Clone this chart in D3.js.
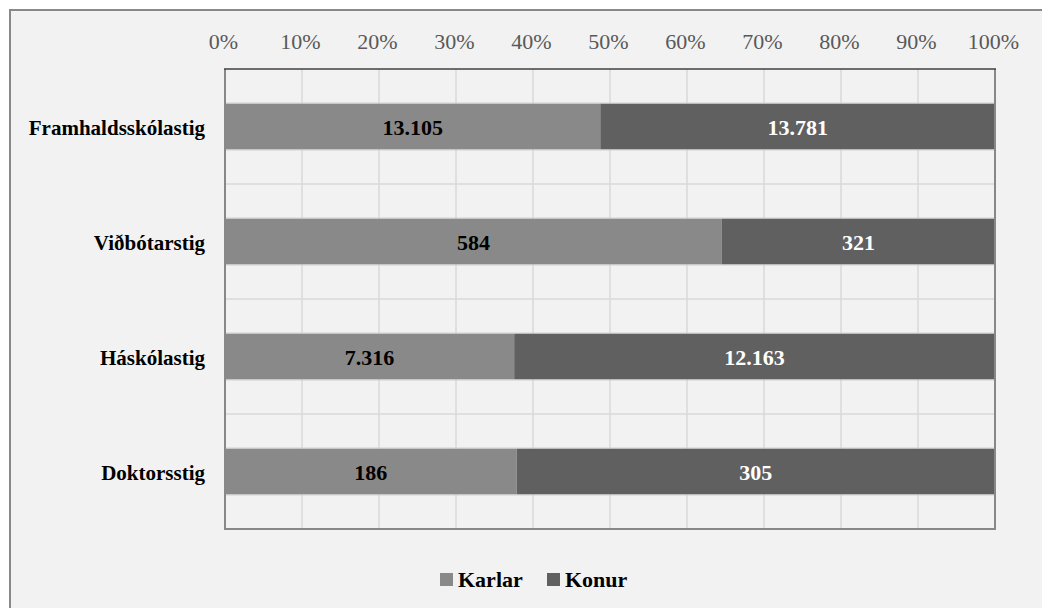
<!DOCTYPE html>
<meta charset="utf-8">
<style>
    body { margin: 0; background: #fff; }
</style>
<body>
<svg width="1042" height="608"></svg>
</body>
<script src="https://d3js.org/d3.v7.min.js"></script>
<script>
    const categories = ["Framhaldsskólastig", "Viðbótarstig", "Háskólastig", "Doktorsstig"];
    const karlar = [13105, 584, 7316, 186];
    const konur = [13781, 321, 12163, 305];
    const tickLabels = ["0%", "10%", "20%", "30%", "40%", "50%", "60%", "70%", "80%", "90%", "100%"];
    const seriesNames = ["Karlar", "Konur"];
    const colors = ["#898989", "#606060"];

    const FONT = "'Liberation Serif', 'Times New Roman', serif";
    const svg = d3.select("svg").style("font-family", FONT);
    const fmt = d3.formatLocale({decimal: ",", thousands: ".", grouping: [3], currency: ["", ""]}).format(",d");

    // outer frame
    svg.append("rect")
        .attr("x", 10).attr("y", 10).attr("width", 1050).attr("height", 620)
        .attr("fill", "#f2f2f2").attr("stroke", "#888").attr("stroke-width", 2);

    const pLeft = 225, pRight = 995, pTop = 69, pBottom = 529;
    const x = d3.scaleLinear().domain([0, 1]).range([pLeft, pRight]);
    const y = d3.scaleBand().domain(categories).range([pTop, pBottom])
        .paddingInner(0.6).paddingOuter(0.3);

    const g = svg.append("g");

    // vertical gridlines
    g.selectAll("line.vg")
        .data(d3.range(1, 10).map(i => i / 10))
        .enter().append("line")
        .attr("x1", d => x(d)).attr("x2", d => x(d))
        .attr("y1", pTop).attr("y2", pBottom)
        .attr("stroke", "#d9d9d9").attr("stroke-width", 1.5);

    // horizontal gridlines at band borders
    g.selectAll("line.hg")
        .data(d3.range(1, categories.length))
        .enter().append("line")
        .attr("x1", pLeft).attr("x2", pRight)
        .attr("y1", d => pTop + d * y.step()).attr("y2", d => pTop + d * y.step())
        .attr("stroke", "#d9d9d9").attr("stroke-width", 1.5);

    const rows = categories.map((c, i) => {
        const tot = karlar[i] + konur[i];
        return {cat: c, vals: [karlar[i], konur[i]], shares: [karlar[i] / tot, konur[i] / tot]};
    });

    rows.forEach(r => {
        let start = 0;
        r.vals.forEach((v, j) => {
            const s = r.shares[j];
            g.append("rect")
                .attr("x", x(start)).attr("y", y(r.cat))
                .attr("width", x(start + s) - x(start)).attr("height", y.bandwidth())
                .attr("fill", colors[j]);
            g.append("text")
                .attr("x", x(start + s / 2))
                .attr("y", y(r.cat) + y.bandwidth() / 2 + 8)
                .attr("text-anchor", "middle")
                .style("font-family", FONT).style("font-weight", "bold").style("font-size", "22px")
                .attr("fill", j === 0 ? "#000" : "#fff")
                .text(fmt(v));
            start += s;
        });
        // faint edge lines on bars
        g.append("line")
            .attr("x1", pLeft).attr("x2", pRight)
            .attr("y1", y(r.cat) - 0.5).attr("y2", y(r.cat) - 0.5)
            .attr("stroke", "#d0d0d0").attr("stroke-width", 1);
        g.append("line")
            .attr("x1", pLeft).attr("x2", pRight)
            .attr("y1", y(r.cat) + y.bandwidth() + 0.5).attr("y2", y(r.cat) + y.bandwidth() + 0.5)
            .attr("stroke", "#d0d0d0").attr("stroke-width", 1);
    });

    // plot borders
    g.append("line").attr("x1", pLeft).attr("x2", pLeft).attr("y1", pTop).attr("y2", pBottom)
        .attr("stroke", "#888").attr("stroke-width", 2);
    g.append("line").attr("x1", pRight).attr("x2", pRight).attr("y1", pTop).attr("y2", pBottom)
        .attr("stroke", "#888").attr("stroke-width", 2);
    g.append("line").attr("x1", pLeft - 1).attr("x2", pRight + 1).attr("y1", pBottom).attr("y2", pBottom)
        .attr("stroke", "#888").attr("stroke-width", 2);
    g.append("line").attr("x1", pLeft - 1).attr("x2", pRight + 1).attr("y1", pTop).attr("y2", pTop)
        .attr("stroke", "#404040").attr("stroke-width", 1.5);

    // top axis labels
    const axis = d3.axisTop(x).tickValues(d3.range(0, 11).map(i => i / 10))
        .tickFormat((d, i) => tickLabels[i]).tickSize(0).tickPadding(0);
    const ax = svg.append("g").attr("transform", "translate(0,49)").call(axis)
        .attr("font-family", null).attr("font-size", null);
    ax.select(".domain").remove();
    ax.selectAll("text").attr("dy", 0).attr("x", -2)
        .attr("fill", "#595959")
        .style("font-family", FONT).style("font-size", "22px");

    // category labels
    svg.selectAll("text.cat")
        .data(categories)
        .enter().append("text")
        .attr("class", "cat")
        .attr("x", 205)
        .attr("y", d => y(d) + y.bandwidth() / 2 + 8)
        .attr("text-anchor", "end")
        .style("font-family", FONT).style("font-weight", "bold").style("font-size", "21px")
        .text(d => d);

    // legend
    const legend = svg.append("g");
    const lx = [440, 547];
    seriesNames.forEach((n, i) => {
        legend.append("rect").attr("x", lx[i]).attr("y", 573).attr("width", 13).attr("height", 13)
            .attr("fill", colors[i]);
        legend.append("text").attr("x", lx[i] + 18).attr("y", 587)
            .style("font-family", FONT).style("font-weight", "bold").style("font-size", "22px")
            .text(n);
    });
</script>
